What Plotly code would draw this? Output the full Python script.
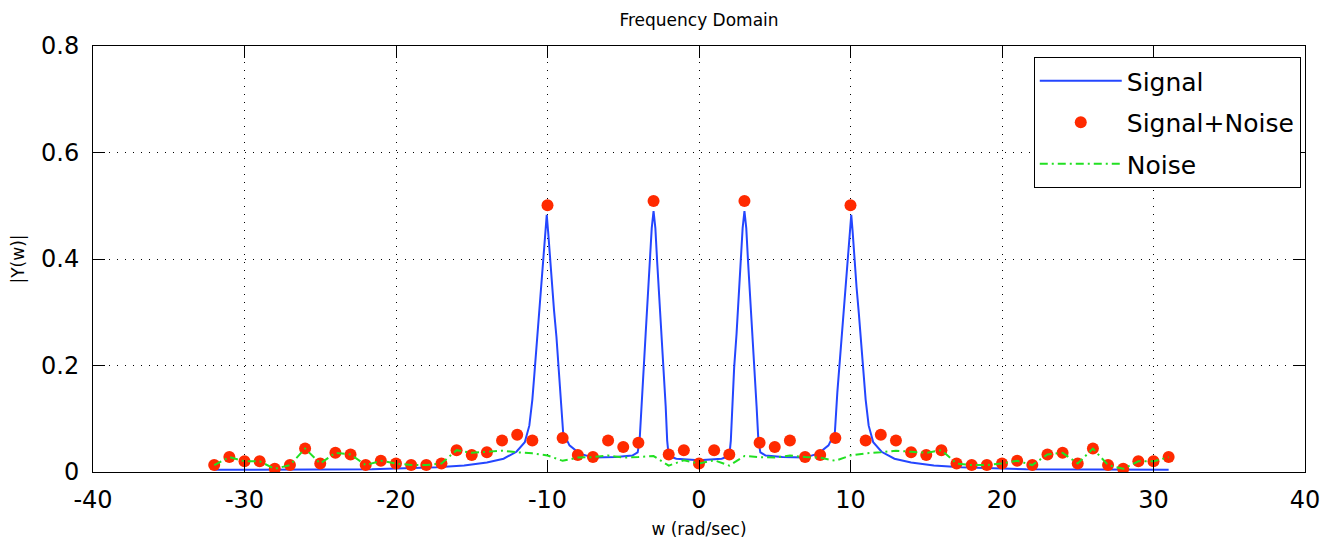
import plotly.graph_objects as go

# ---- data ----
sig_w = [-32, -21.6, -17.3, -15.5, -14.0, -12.9, -12.05, -11.5, -11.2, -11.0,
         -10.86, -10.7, -10.55, -10.4, -10.25, -10.14, -10.05, -9.96, -9.85, -9.72,
         -9.57, -9.41, -9.28, -9.13, -8.97, -8.55, -7.9, -7.0, -5.5, -4.4,
         -4.05, -3.92, -3.8, -3.68, -3.52, -3.38, -3.24, -3.12, -3.0, -2.88,
         -2.76, -2.62, -2.48, -2.32, -2.2, -2.1, -2.0, -1.5,
         0,
         1.5, 2.0, 2.1, 2.2, 2.32, 2.48, 2.62, 2.76, 2.88, 3.0,
         3.12, 3.24, 3.38, 3.52, 3.68, 3.8, 3.92, 4.05, 4.4, 5.5,
         7.0, 7.9, 8.55, 8.97, 9.13, 9.28, 9.41, 9.57, 9.72, 9.85,
         9.96, 10.05, 10.14, 10.25, 10.4, 10.55, 10.7, 10.86, 11.0, 11.2,
         11.5, 12.05, 12.9, 14.0, 15.5, 17.3, 21.6, 31.0]
sig_y = [0.004, 0.005, 0.009, 0.012, 0.018, 0.025, 0.038, 0.056, 0.087, 0.136,
         0.186, 0.242, 0.298, 0.347, 0.400, 0.452, 0.483, 0.452, 0.406, 0.353,
         0.304, 0.254, 0.205, 0.149, 0.075, 0.050, 0.035, 0.027, 0.028, 0.031,
         0.037, 0.059, 0.124, 0.196, 0.260, 0.329, 0.394, 0.458, 0.490, 0.458,
         0.394, 0.329, 0.260, 0.196, 0.124, 0.059, 0.030, 0.025,
         0.022,
         0.025, 0.030, 0.059, 0.124, 0.196, 0.260, 0.329, 0.394, 0.458, 0.490,
         0.458, 0.394, 0.329, 0.260, 0.196, 0.124, 0.059, 0.037, 0.031, 0.028,
         0.027, 0.035, 0.050, 0.075, 0.149, 0.205, 0.254, 0.304, 0.353, 0.406,
         0.452, 0.483, 0.452, 0.400, 0.347, 0.298, 0.242, 0.186, 0.136, 0.087,
         0.056, 0.038, 0.025, 0.018, 0.012, 0.009, 0.005, 0.004]

w_k = [-32, -31, -30, -29, -28, -27, -26, -25, -24, -23, -22, -21, -20, -19, -18, -17,
       -16, -15, -14, -13, -12, -11, -10, -9, -8, -7, -6, -5, -4, -3, -2, -1,
       0, 1, 2, 3, 4, 5, 6, 7, 8, 9, 10, 11, 12, 13, 14, 15,
       16, 17, 18, 19, 20, 21, 22, 23, 24, 25, 26, 27, 28, 29, 30, 31]
sn_y = [0.013, 0.028, 0.020, 0.020, 0.006, 0.013, 0.044, 0.016, 0.036, 0.033, 0.013, 0.021, 0.016, 0.013, 0.013, 0.016,
        0.041, 0.032, 0.037, 0.059, 0.070, 0.059, 0.501, 0.064, 0.032, 0.028, 0.059, 0.047, 0.055, 0.509, 0.033, 0.041,
        0.016, 0.041, 0.033, 0.509, 0.055, 0.047, 0.059, 0.028, 0.032, 0.064, 0.501, 0.059, 0.070, 0.059, 0.037, 0.032,
        0.041, 0.016, 0.013, 0.013, 0.016, 0.021, 0.013, 0.033, 0.036, 0.016, 0.044, 0.013, 0.006, 0.020, 0.020, 0.028]
noise_y = [0.013, 0.028, 0.020, 0.020, 0.006, 0.013, 0.044, 0.016, 0.036, 0.033, 0.013, 0.021, 0.016, 0.013, 0.013, 0.016,
           0.041, 0.036, 0.038, 0.040, 0.037, 0.035, 0.031, 0.021, 0.027, 0.028, 0.031, 0.027, 0.028, 0.030, 0.012, 0.022,
           0.016, 0.022, 0.012, 0.030, 0.028, 0.027, 0.031, 0.028, 0.027, 0.021, 0.031, 0.035, 0.037, 0.040, 0.038, 0.036,
           0.041, 0.016, 0.013, 0.013, 0.016, 0.021, 0.013, 0.033, 0.036, 0.016, 0.044, 0.013, 0.006, 0.020, 0.020, 0.028]

x_ticks = [-40, -30, -20, -10, 0, 10, 20, 30, 40]
x_labels = ["-40", "-30", "-20", "-10", "0", "10", "20", "30", "40"]
y_ticks = [0, 0.2, 0.4, 0.6, 0.8]
y_labels = ["0", "0.2", "0.4", "0.6", "0.8"]

FONT = "DejaVu Sans"

fig = go.Figure()
fig.add_trace(go.Scatter(x=sig_w, y=sig_y, mode="lines", name="Signal", legendgroup="a",
                         line=dict(color="#2446ff", width=2)))
fig.add_trace(go.Scatter(x=w_k, y=sn_y, mode="markers", name="Signal+Noise", legendgroup="b",
                         marker=dict(color="#ff2a00", size=12, line=dict(width=0))))
fig.add_trace(go.Scatter(x=w_k, y=noise_y, mode="lines", name="Noise", legendgroup="c",
                         line=dict(color="#22e022", width=2, dash="8px,4px,2px,4px")))

axis_common = dict(
    showline=True, linecolor="black", linewidth=1, mirror="ticks",
    ticks="inside", ticklen=12, tickcolor="black", tickwidth=1,
    showgrid=True, gridcolor="black", gridwidth=1, griddash="1px,7px",
    zeroline=False, tickfont=dict(family=FONT, size=24, color="black"),
)

fig.update_xaxes(range=[-40, 40], tickmode="array", tickvals=x_ticks, ticktext=x_labels,
                 title=dict(text="w (rad/sec)", font=dict(family=FONT, size=17, color="black"), standoff=10),
                 ticklabelstandoff=6, **axis_common)
fig.update_yaxes(range=[0, 0.8], tickmode="array", tickvals=y_ticks, ticktext=y_labels,
                 title=dict(text="|Y(w)|", font=dict(family=FONT, size=17, color="black"), standoff=12),
                 ticklabelstandoff=8, **axis_common)

fig.update_layout(
    width=1332, height=548,
    margin=dict(l=93, r=25, t=46, b=71),
    paper_bgcolor="white", plot_bgcolor="white",
    title=dict(text="Frequency Domain", x=0.5, xref="paper", xanchor="center",
               y=1 - 20 / 548, yref="container", yanchor="middle",
               font=dict(family=FONT, size=17, color="black")),
    legend=dict(x=0.9965, y=0.974, xanchor="right", yanchor="top",
                bgcolor="white", bordercolor="black", borderwidth=1,
                font=dict(family=FONT, size=25, color="black"),
                itemwidth=82, tracegroupgap=6),
    showlegend=True,
)

fig.write_html("out.html")
